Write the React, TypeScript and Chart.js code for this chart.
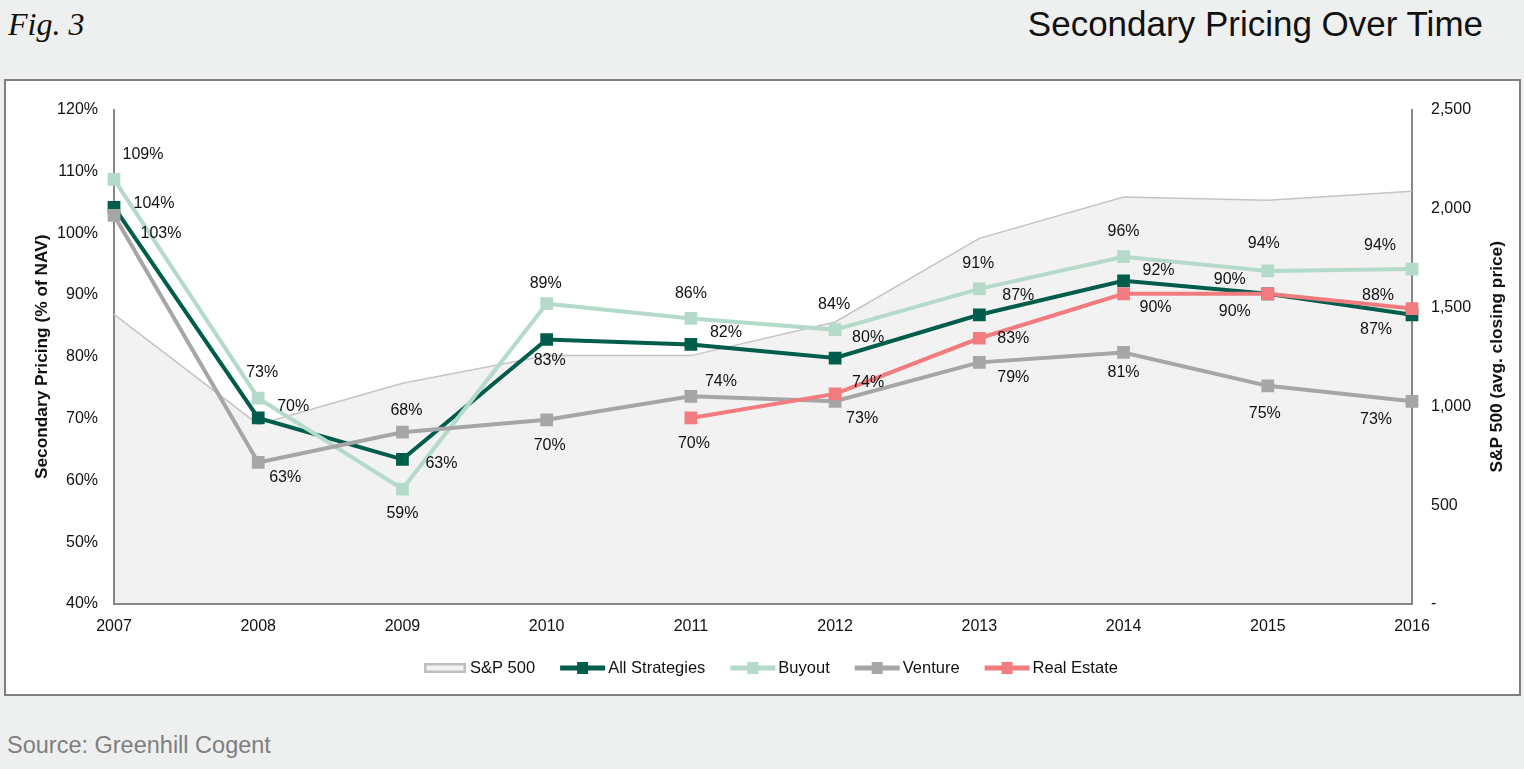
import React, { useEffect, useRef } from 'react';
import { Chart, registerables } from 'chart.js';

Chart.register(...registerables);

// ---------- data ----------
const years = ['2007', '2008', '2009', '2010', '2011', '2012', '2013', '2014', '2015', '2016'];
const sp500 = [1465, 908, 1116, 1256, 1256, 1426, 1849, 2058, 2042, 2087];
const allStrategies = [104.2, 70.1, 63.4, 82.8, 82.0, 79.8, 86.8, 92.3, 90.2, 86.8];
const buyout = [108.7, 73.3, 58.6, 88.6, 86.2, 84.4, 91.0, 96.2, 93.9, 94.2];
const venture = [102.9, 62.9, 67.8, 69.8, 73.6, 72.8, 79.1, 80.7, 75.3, 72.8];
const realEstate = [null, null, null, null, 70.1, 74.0, 83.0, 90.2, 90.2, 87.8];
const leftTickValues = { min: 40, max: 120, step: 10 };
const rightTickValues = { min: 0, max: 2500, step: 500 };

// ---------- label placement (relative offsets of value labels) ----------
const labelOffsets: Record<string, (number[] | null)[]> = {
  'All Strategies': [[40, -4], [35, -11], [39, 4], [3, 21], [35, -12], [33, -20], [39, -19], [35, -10], [-33, 18], [-36, 15]],
  Buyout: [[29, -25], [4, -26], [0, 25], [-1, -20], [0, -25], [-1, -25], [-1, -25], [0, -25], [-4, -27], [-32, -23]],
  Venture: [[47, 18], [27, 15], [4, -22], [3, 26], [30, -15], [27, 17], [34, 15], [0, 20], [-3, 28], [-36, 18]],
  'Real Estate': [null, null, null, null, [3, 26], [33, -11], [34, 0], [32, 14], [-38, -14], [-34, -13]],
};

const FONT = "'Liberation Sans', Arial, Helvetica, sans-serif";
const AXIS_COLOR = '#878787';

export default function App() {
  const ref = useRef<HTMLCanvasElement>(null);

  useEffect(() => {
    const canvas = ref.current;
    if (!canvas) return;

    const dataLabels = {
      id: 'dataLabels',
      afterDatasetsDraw(chart: any) {
        const c = chart.ctx;
        c.save();
        c.font = `16px ${FONT}`;
        c.fillStyle = '#111111';
        c.textAlign = 'center';
        c.textBaseline = 'middle';
        chart.data.datasets.forEach((ds: any, di: number) => {
          const offs = labelOffsets[ds.label];
          if (!offs) return;
          const meta = chart.getDatasetMeta(di);
          meta.data.forEach((pt: any, i: number) => {
            const v = ds.data[i];
            const o = offs[i];
            if (v == null || !o) return;
            c.fillText(`${Math.round(v)}%`, pt.x + o[0], pt.y + o[1]);
          });
        });
        c.restore();
      },
    };

    const axisTitles = {
      id: 'axisTitles',
      afterDraw(chart: any) {
        const c = chart.ctx;
        const { top, bottom } = chart.chartArea;
        const cy = (top + bottom) / 2;
        const draw = (text: string, x: number) => {
          c.save();
          c.font = `bold 17.3px ${FONT}`;
          c.fillStyle = '#111111';
          c.textAlign = 'center';
          c.textBaseline = 'middle';
          c.translate(x, cy);
          c.rotate(-Math.PI / 2);
          c.fillText(text, 0, 0);
          c.restore();
        };
        draw('Secondary Pricing (% of NAV)', 36);
        draw('S&P 500 (avg. closing price)', 1491);
      },
    };

    const legendPlugin = {
      id: 'customLegend',
      afterDraw(chart: any) {
        const c = chart.ctx;
        c.save();
        c.font = `16.5px ${FONT}`;
        c.textBaseline = 'middle';
        c.textAlign = 'left';
        const y = 587;
        let x = 418;
        chart.data.datasets.forEach((ds: any, i: number) => {
          if (i === 0) {
            c.fillStyle = '#f2f2f2';
            c.fillRect(x, y - 5, 42, 10);
            c.strokeStyle = '#bfbfbf';
            c.lineWidth = 2.5;
            c.strokeRect(x + 1.25, y - 3.75, 39.5, 7.5);
            x += 46;
          } else {
            c.strokeStyle = ds.borderColor;
            c.lineWidth = 5;
            c.beginPath();
            c.moveTo(x, y);
            c.lineTo(x + 45, y);
            c.stroke();
            c.fillStyle = ds.borderColor;
            c.fillRect(x + 22.5 - 5.5, y - 6, 11, 12);
            x += 48;
          }
          c.fillStyle = '#111111';
          c.fillText(ds.label, x, y);
          x += c.measureText(ds.label).width + 25;
        });
        c.restore();
      },
    };

    const lineSeries = (label: string, data: (number | null)[], color: string, order: number) => ({
      label,
      data,
      yAxisID: 'y',
      borderColor: color,
      backgroundColor: color,
      borderWidth: 4,
      pointStyle: 'rect',
      pointRadius: 9,
      pointBorderWidth: 0,
      pointBackgroundColor: color,
      fill: false,
      order,
    });

    const chart = new Chart(canvas, {
      type: 'line',
      data: {
        labels: years,
        datasets: [
          {
            label: 'S&P 500',
            data: sp500,
            yAxisID: 'y2',
            borderColor: '#c4c4c4',
            borderWidth: 1.5,
            backgroundColor: '#f2f2f2',
            fill: 'start',
            pointRadius: 0,
            order: 5,
          } as any,
          lineSeries('All Strategies', allStrategies, '#005c4b', 4),
          lineSeries('Buyout', buyout, '#b4dac9', 3),
          lineSeries('Venture', venture, '#a6a6a6', 2),
          lineSeries('Real Estate', realEstate, '#f27b7f', 1),
        ],
      },
      options: {
        responsive: false,
        animation: false,
        layout: { padding: { left: 0, right: 0, top: 25, bottom: 0 } },
        plugins: {
          legend: { display: false },
          tooltip: { enabled: false },
          title: { display: false },
          filler: { drawTime: 'beforeDraw' },
        },
        elements: { line: { tension: 0 } },
        scales: {
          x: {
            type: 'category',
            offset: false,
            grid: { display: false, drawTicks: false },
            border: { display: true, color: AXIS_COLOR, width: 2 },
            ticks: {
              font: { family: FONT, size: 16 },
              color: '#111111',
              padding: 13,
              maxRotation: 0,
              autoSkip: false,
            },
            afterFit(scale: any) {
              scale.height = 90;
            },
          },
          y: {
            position: 'left',
            min: leftTickValues.min,
            max: leftTickValues.max,
            grid: { display: false, drawTicks: false },
            border: { display: true, color: AXIS_COLOR, width: 2 },
            ticks: {
              stepSize: leftTickValues.step,
              font: { family: FONT, size: 16 },
              color: '#111111',
              padding: 16,
              callback: (v: any) => `${v}%`,
            },
            afterFit(scale: any) {
              scale.width = 108;
            },
          },
          y2: {
            position: 'right',
            min: rightTickValues.min,
            max: rightTickValues.max,
            grid: { display: false, drawTicks: false },
            border: { display: true, color: AXIS_COLOR, width: 2 },
            ticks: {
              stepSize: rightTickValues.step,
              font: { family: FONT, size: 16 },
              color: '#111111',
              padding: 19,
              callback: (v: any) => (v === 0 ? '-' : Number(v).toLocaleString('en-US')),
            },
            afterFit(scale: any) {
              scale.width = 107;
            },
          },
        },
      } as any,
      plugins: [dataLabels, axisTitles, legendPlugin],
    });

    return () => chart.destroy();
  }, []);

  return (
    <div
      style={{
        position: 'absolute',
        left: 0,
        top: 0,
        width: 1524,
        height: 769,
        background: '#eef0ef',
        overflow: 'hidden',
        fontFamily: FONT,
      }}
    >
      <div
        style={{
          position: 'absolute',
          left: 8,
          top: 8,
          fontFamily: "'Liberation Serif', 'Times New Roman', serif",
          fontStyle: 'italic',
          fontSize: 32,
          lineHeight: 1,
          color: '#111111',
          whiteSpace: 'nowrap',
        }}
      >
        Fig. 3
      </div>
      <div
        style={{
          position: 'absolute',
          right: 41,
          top: 6,
          fontSize: 35,
          lineHeight: 1,
          color: '#111111',
          whiteSpace: 'nowrap',
        }}
      >
        Secondary Pricing Over Time
      </div>
      <div
        style={{
          position: 'absolute',
          left: 4,
          top: 79,
          width: 1517,
          height: 617,
          boxSizing: 'border-box',
          border: '2px solid #7f7f7f',
          background: '#ffffff',
        }}
      >
        <canvas ref={ref} width={1513} height={613} style={{ display: 'block', width: 1513, height: 613 }} />
      </div>
      <div
        style={{
          position: 'absolute',
          left: 7,
          top: 734,
          fontSize: 23.5,
          lineHeight: 1,
          color: '#7f7f7f',
          whiteSpace: 'nowrap',
        }}
      >
        Source: Greenhill Cogent
      </div>
    </div>
  );
}
